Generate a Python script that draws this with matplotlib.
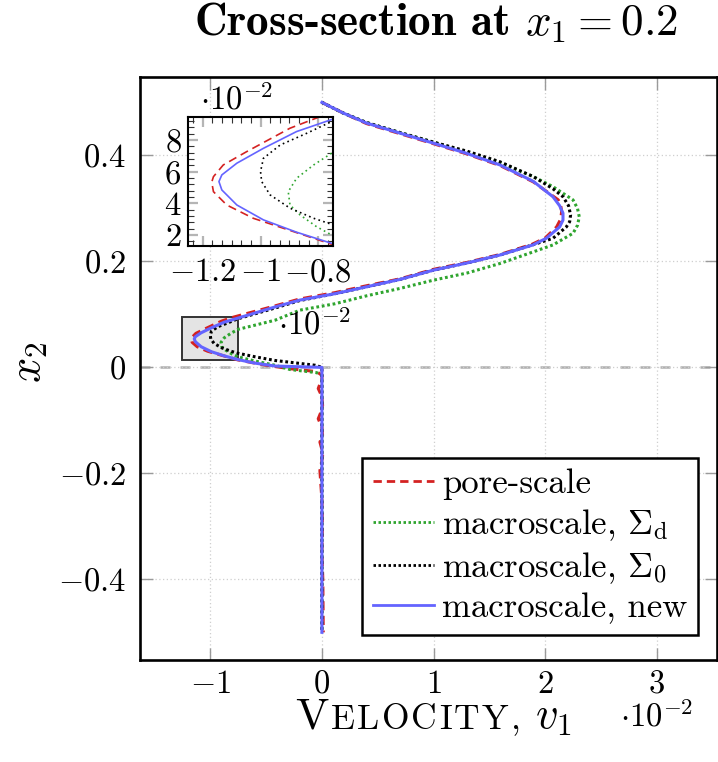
import matplotlib
matplotlib.use("Agg")
import matplotlib.pyplot as plt
from matplotlib.patches import Rectangle
from matplotlib.offsetbox import TextArea, HPacker, AnchoredOffsetbox
from matplotlib.ticker import MultipleLocator

plt.rcParams['font.family'] = 'cmr10'
plt.rcParams['mathtext.fontset'] = 'cm'
plt.rcParams['axes.formatter.use_mathtext'] = True

# velocity v1 (x 1e-2) against x2, top to bottom
red_y = [0.500, 0.480, 0.460, 0.441, 0.422, 0.404, 0.381, 0.350, 0.316, 0.305, 0.294,
         0.280, 0.265, 0.244, 0.232, 0.213, 0.198, 0.185, 0.167, 0.154, 0.141, 0.129,
         0.116, 0.0947, 0.0874, 0.0726, 0.0642, 0.0568, 0.0533, 0.0473, 0.0389, 0.0305,
         0.0221, 0.0141, 0.004, -0.0025, -0.008, -0.015, -0.021, -0.040, -0.055, -0.072,
         -0.085, -0.097, -0.113, -0.129, -0.141, -0.155, -0.167, -0.181, -0.195, -0.25,
         -0.30, -0.35, -0.40, -0.45, -0.50]
red_v = [0.0, 0.19, 0.40, 0.70, 1.00, 1.28, 1.595, 1.894, 2.118, 2.14, 2.148,
         2.14, 2.103, 2.00, 1.88, 1.595, 1.30, 1.00, 0.70, 0.40, 0.116, -0.20,
         -0.42, -0.794, -0.898, -1.048, -1.129, -1.163, -1.169, -1.163, -1.117, -1.025,
         -0.886, -0.754, -0.50, -0.287, -0.047, 0.0, 0.0, -0.033, 0.0, 0.006,
         -0.01, -0.033, 0.0, 0.006, -0.018, 0.0, 0.006, -0.005, -0.018, 0.0,
         0.005, 0.0, 0.008, 0.01, 0.012]

green_y = [0.500, 0.480, 0.462, 0.443, 0.425, 0.407, 0.386, 0.360, 0.341, 0.316, 0.300,
           0.284, 0.268, 0.253, 0.231, 0.218, 0.196, 0.178, 0.1646, 0.149, 0.135, 0.120,
           0.108, 0.089, 0.0716, 0.0642, 0.0558, 0.0473, 0.0389, 0.0326, 0.0252, 0.020,
           0.012, 0.004, -0.004, -0.010, -0.015, -0.50]
green_v = [0.0, 0.19, 0.40, 0.70, 1.00, 1.28, 1.595, 1.894, 2.07, 2.25, 2.29,
           2.306, 2.29, 2.25, 2.07, 1.894, 1.595, 1.30, 1.00, 0.70, 0.40, 0.116,
           -0.197, -0.42, -0.754, -0.816, -0.875, -0.904, -0.898, -0.863, -0.806, -0.754,
           -0.60, -0.42, -0.287, -0.047, 0.0, 0.0]

black_y = [0.500, 0.480, 0.462, 0.443, 0.425, 0.408, 0.388, 0.360, 0.337, 0.322, 0.305,
           0.2876, 0.275, 0.265, 0.2435, 0.232, 0.212, 0.197, 0.1835, 0.166, 0.152, 0.139,
           0.126, 0.112, 0.0916, 0.0842, 0.0768, 0.0684, 0.060, 0.0537, 0.0453, 0.0369,
           0.0305, 0.0267, 0.020, 0.013, 0.004, 0.0, -0.50]
black_v = [0.0, 0.19, 0.40, 0.70, 1.00, 1.30, 1.595, 1.894, 2.07, 2.16, 2.21,
           2.228, 2.22, 2.19, 2.07, 1.90, 1.595, 1.30, 1.00, 0.70, 0.40, 0.116,
           -0.20, -0.42, -0.754, -0.84, -0.932, -0.99, -1.0, -0.996, -0.967, -0.898,
           -0.816, -0.754, -0.60, -0.42, -0.06, 0.0, 0.0]

blue_y = [0.500, 0.480, 0.461, 0.442, 0.423, 0.405, 0.382, 0.351, 0.322, 0.305, 0.291,
          0.278, 0.265, 0.2435, 0.231, 0.212, 0.197, 0.1835, 0.166, 0.152, 0.139, 0.127,
          0.114, 0.095, 0.0853, 0.0747, 0.0653, 0.0579, 0.0537, 0.0484, 0.0389, 0.0295,
          0.0217, 0.0147, 0.008, 0.0025, 0.0, -0.50]
blue_v = [0.0, 0.19, 0.40, 0.70, 1.00, 1.28, 1.595, 1.894, 2.07, 2.13, 2.16,
          2.16, 2.13, 2.01, 1.89, 1.595, 1.30, 1.00, 0.70, 0.40, 0.116, -0.197,
          -0.42, -0.72, -0.875, -0.99, -1.082, -1.134, -1.144, -1.134, -1.082, -0.99,
          -0.875, -0.754, -0.60, -0.42, 0.0, 0.0]

labels = ['pore-scale', r'macroscale, $\Sigma_{\mathrm{d}}$',
          r'macroscale, $\Sigma_0$', 'macroscale, new']

RED = '#d42222'
GREEN = '#2fa52f'
BLUE = '#6464ff'
GRID = '#cfcfcf'
TICK = '#9a9a9a'
TS = 23.5  # tick label size

series = [
    (red_v, red_y, RED, (0, (3, 1.8))),
    (green_v, green_y, GREEN, (0, (0.9, 0.9))),
    (black_v, black_y, 'black', (0, (0.9, 0.9))),
    (blue_v, blue_y, BLUE, '-'),
]

xt = [-1, 0, 1, 2, 3]
yt = [-0.4, -0.2, 0, 0.2, 0.4]
ixt = [-1.2, -1.0, -0.8]
iyt = [0.02, 0.04, 0.06, 0.08]
zoom_x = (-1.25, -0.75)
zoom_y = (0.0132, 0.0947)


def mlab(t):
    return r'$%g$' % t if t >= 0 else r'$-%g$' % -t


fig = plt.figure(figsize=(7.18, 7.62), dpi=100)
ax = fig.add_axes([0.195, 0.134, 0.8036, 0.765])

for v, y, c, ls in series:
    ax.plot(v, y, color=c, ls=ls, lw=2.2, zorder=4)
for (v, y, c, ls), lab in zip(series, labels):
    ax.plot([], [], color=c, ls=ls, lw=2.0, label=lab)

ax.axhline(0, color='#b0b0b0', lw=1.8, ls=(0, (4, 4)), zorder=1)
ax.add_patch(Rectangle((zoom_x[0], zoom_y[0]), zoom_x[1] - zoom_x[0], zoom_y[1] - zoom_y[0],
                       facecolor='#e4e4e4', edgecolor='#333333', lw=1.4, zorder=2))

ax.set_xlim(-1.63, 3.54)
ax.set_ylim(-0.552, 0.548)
ax.set_xticks(xt)
ax.set_xticklabels([mlab(t) for t in xt])
ax.set_yticks(yt)
ax.set_yticklabels([mlab(t) for t in yt])
ax.tick_params(direction='in', length=9, width=1.0, color=TICK, labelsize=TS,
               top=True, right=True, pad=10)
ax.tick_params(axis='x', pad=7)
ax.grid(True, color=GRID, ls=(0, (1, 2)), lw=0.9, zorder=0)
for s in ax.spines.values():
    s.set_linewidth(1.9)

leg = ax.legend(loc='lower right', bbox_to_anchor=(0.967, 0.043), borderaxespad=0,
                fontsize=25, frameon=True, fancybox=False, framealpha=1,
                edgecolor='black', handlelength=1.75, handletextpad=0.25,
                labelspacing=0.2, borderpad=0.3)
leg.get_frame().set_linewidth(1.8)
leg.set_zorder(10)

# inset
ins = fig.add_axes([0.2623, 0.6776, 0.2011, 0.1693])
for v, y, c, ls in series:
    if ls == '-':
        st = '-'
    elif c == RED:
        st = (0, (5, 3))
    else:
        st = (0, (1, 2))
    ins.plot(v, y, color=c, ls=st, lw=1.2)
ins.set_xlim(*zoom_x)
ins.set_ylim(*zoom_y)
ins.set_xticks(ixt)
ins.set_xticklabels([r'$-1.2$', r'$-1$', r'$-0.8$'])
ins.set_yticks(iyt)
ins.set_yticklabels([r'$%d$' % round(t * 100) for t in iyt])
ins.xaxis.set_minor_locator(MultipleLocator(0.2 / 6))
ins.yaxis.set_minor_locator(MultipleLocator(0.004))
ins.tick_params(which='major', direction='in', length=7, width=1.6, color='#b5b5b5',
                labelsize=TS, top=True, right=True, pad=5)
ins.tick_params(axis='x', which='major', pad=9)
ins.tick_params(which='minor', direction='in', length=4, width=0.8, color='#333333',
                top=True, right=True)
for s in ins.spines.values():
    s.set_linewidth(1.5)

# multipliers
fig.text(0.279, 0.869, r'$\cdot 10^{-2}$', fontsize=TS, ha='left', va='center')
fig.text(0.387, 0.5735, r'$\cdot 10^{-2}$', fontsize=TS, ha='left', va='center')
fig.text(0.864, 0.059, r'$\cdot 10^{-2}$', fontsize=TS, ha='left', va='center')

# title
fig.text(0.607, 0.954, r'Cross-section at $x_1 = 0.2$', fontsize=32.5,
         family='cmb10', ha='center', va='baseline')

# x label with small caps
parts = ([TextArea('V', textprops=dict(fontsize=32))] +
         [TextArea(ch, textprops=dict(fontsize=25.5)) for ch in 'ELOCITY,'] +
         [TextArea(r'$\ v_1$', textprops=dict(fontsize=32))])
box = HPacker(children=parts, align='baseline', pad=0, sep=1.6)
fig.add_artist(AnchoredOffsetbox(loc='center', child=box, pad=0, borderpad=0,
                                 frameon=False, bbox_to_anchor=(0.604, 0.058),
                                 bbox_transform=fig.transFigure))

fig.text(0.042, 0.525, r'$x_2$', fontsize=32, rotation=90, ha='center', va='center')

fig.savefig('out.png', dpi=100)
